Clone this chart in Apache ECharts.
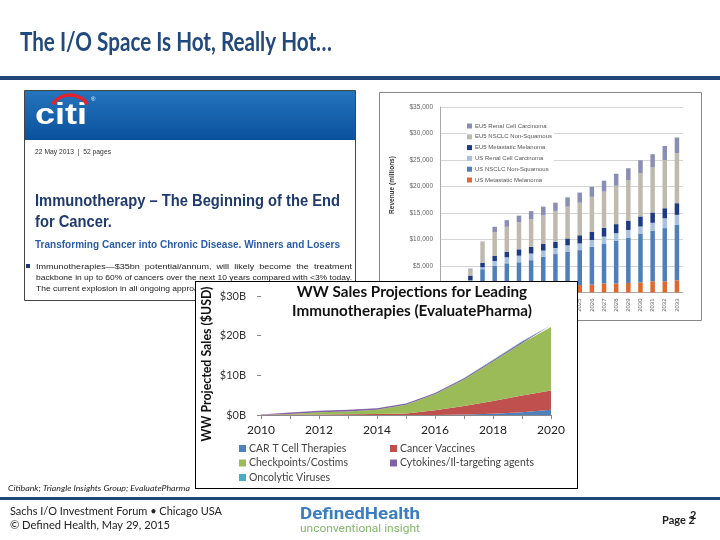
<!DOCTYPE html>
<html>
<head>
<meta charset="utf-8">
<script src="https://cdn.jsdelivr.net/npm/echarts@6/dist/echarts.min.js"></script>
<style>
  html, body { margin: 0; padding: 0; background: #fff; }
  #slide { position: absolute; left: 0; top: 0; width: 720px; height: 540px; }
  #front { position: absolute; left: 195px; top: 281px; width: 383px; height: 208px;
           box-sizing: border-box; border: 1px solid #000; background: #fff; }
</style>
</head>
<body>
<div id="slide"></div>
<div id="front"></div>
<script>
// Citi chart: revenue by indication, $ millions
const barYears = ['2014', '2015', '2016', '2017', '2018', '2019', '2020', '2021', '2022', '2023',
                  '2024', '2025', '2026', '2027', '2028', '2029', '2030', '2031', '2032', '2033'];
const usMelanoma  = [0, 0, 300, 600, 800, 900, 1000, 1100, 1200, 1300, 1350, 1400, 1500, 1700, 1700, 1800, 1900, 2100, 2100, 2300];
const usNsclc     = [0, 0, 1700, 3800, 4250, 4600, 4700, 5000, 5550, 5950, 6300, 6600, 7150, 7450, 8100, 8550, 9150, 9550, 10050, 10450];
const usRenal     = [0, 0, 300, 350, 900, 1150, 1250, 1250, 1150, 1150, 1250, 1250, 1250, 1400, 1400, 1450, 1400, 1500, 1850, 1900];
const eu5Melanoma = [0, 0, 900, 850, 1000, 1050, 1200, 1250, 1250, 1150, 1300, 1550, 1550, 1650, 1700, 1750, 1900, 1950, 1900, 2200];
const eu5Nsclc    = [0, 0, 1100, 3900, 4400, 4700, 5100, 5200, 5400, 5850, 6000, 6150, 6600, 6850, 7250, 7650, 8200, 8500, 9100, 9450];
const eu5Renal    = [0, 0, 200, 100, 1050, 1250, 1250, 1550, 1650, 1550, 1750, 1900, 1900, 2050, 2250, 2250, 2400, 2500, 2650, 2950];
const barYLabels  = ['$0', '$5,000', '$10,000', '$15,000', '$20,000', '$25,000', '$30,000', '$35,000'];

// EvaluatePharma chart: WW sales, $ billions
const areaYears   = ['2010', '2011', '2012', '2013', '2014', '2015', '2016', '2017', '2018', '2019', '2020'];
const carT        = [0, 0, 0, 0, 0, 0, 0.02, 0.1, 0.3, 0.7, 1.3];
const vaccines    = [0.05, 0.1, 0.15, 0.2, 0.25, 0.4, 1.2, 2.2, 3.2, 4.2, 4.9];
const checkpoints = [0.02, 0.15, 0.55, 0.7, 1.1, 2.2, 4.0, 6.65, 10.0, 13.2, 16.0];
const cytokines   = [0.05, 0.35, 0.4, 0.4, 0.35, 0.3, 0.3, 0.3, 0.3, 0.35, 0.4];
const oncolytic   = [0, 0, 0, 0, 0, 0, 0.02, 0.05, 0.1, 0.15, 0.2];
const areaYLabels = ['$0B', '$10B', '$20B', '$30B'];

const navy = '#21467A';
const ctx = document.createElement('canvas').getContext('2d');
// horizontal scale so a line of text fills the width it has in the picture
function fit(text, font, w) { ctx.font = font; return w / ctx.measureText(text).width; }
function txt(text, x, y, font, fill, extra) {
    return Object.assign({
        type: 'text', x: x, y: y,
        style: { text: text, x: 0, y: 0, font: font, fill: fill,
                 textVerticalAlign: 'middle', verticalAlign: 'middle' }
    }, extra || {});
}

const citiFont1 = 'bold 16px "Liberation Sans"';
const citiScale1 = fit('Immunotherapy \u2013 The Beginning of the End', citiFont1, 305);
const citiFont2 = 'bold 11px "Liberation Sans"';
const citiFont3 = '7.5px "Liberation Sans"';
const bulletScale = fit('backbone in up to 60% of cancers over the next 10 years compared with <3% today.', citiFont3, 316);
const titleFont = 'bold 27px Lato';
const dhFont = 'bold 17px Roboto';
const dhSubFont = '10.5px Roboto';

const slide = echarts.init(document.getElementById('slide'));
slide.setOption({
    animation: false,
    textStyle: { fontFamily: '"Liberation Sans"' },
    graphic: { elements: [
        txt('The I/O Space Is Hot, Really Hot\u2026', 20, 42, titleFont, '#22497D',
            { scaleX: fit('The I/O Space Is Hot, Really Hot\u2026', titleFont, 312) }),
        { type: 'rect', shape: { x: 0, y: 76, width: 720, height: 4 }, style: { fill: navy } },
        { type: 'rect', shape: { x: 0, y: 497, width: 720, height: 3 }, style: { fill: navy } },

        // Citi report cover
        { type: 'rect', z: -10, shape: { x: 24.5, y: 90.5, width: 331, height: 210 },
          style: { fill: '#fff', stroke: '#444', lineWidth: 1 } },
        { type: 'rect', z: -9, shape: { x: 25, y: 91, width: 330, height: 49 },
          style: { fill: new echarts.graphic.LinearGradient(0, 0, 0, 1, [
              { offset: 0, color: '#2474BC' }, { offset: 1, color: '#0B519D' }]) } },
        txt('citi', 35, 116, 'bold 30px "Liberation Sans"', '#fff', { scaleX: 1.2 }),
        { type: 'arc', shape: { cx: 70, cy: 116, r: 21, startAngle: -2.55, endAngle: -0.6, clockwise: true },
          style: { stroke: '#E3232B', lineWidth: 3.5, fill: null } },
        txt('\u00ae', 91, 99, '6px "Liberation Sans"', '#fff'),
        txt('22 May 2013  |  52 pages', 35, 152, '8px "Liberation Sans"', '#333',
            { scaleX: fit('22 May 2013  |  52 pages', '8px "Liberation Sans"', 76) }),
        txt('Immunotherapy \u2013 The Beginning of the End', 35, 202, citiFont1, '#1F3A6E', { scaleX: citiScale1 }),
        txt('for Cancer.', 35, 223, citiFont1, '#1F3A6E', { scaleX: citiScale1 }),
        txt('Transforming Cancer into Chronic Disease. Winners and Losers', 35, 245, citiFont2, '#2A5CA8',
            { scaleX: fit('Transforming Cancer into Chronic Disease. Winners and Losers', citiFont2, 305) }),
        { type: 'rect', shape: { x: 26, y: 264, width: 4, height: 4 }, style: { fill: '#1F3A6E' } },
        txt('Immunotherapies\u2014$35bn  potential/annum,  will  likely  become  the  treatment', 36, 267, citiFont3, '#222',
            { scaleX: fit('Immunotherapies\u2014$35bn  potential/annum,  will  likely  become  the  treatment', citiFont3, 316) }),
        txt('backbone in up to 60% of cancers over the next 10 years compared with <3% today.', 36, 278, citiFont3, '#222',
            { scaleX: bulletScale }),
        txt('The current explosion in all ongoing approaches and the', 36, 289, citiFont3, '#222', { scaleX: bulletScale }),

        // Citi bar chart frame and axis title
        { type: 'rect', z: -10, shape: { x: 379.5, y: 92.5, width: 322, height: 228 },
          style: { fill: '#fff', stroke: '#888', lineWidth: 1 } },
        txt('Revenue (millions)', 392, 185, 'bold 6.5px "Liberation Sans"', '#333',
            { rotation: Math.PI / 2, style: { text: 'Revenue (millions)', x: 0, y: 0, font: 'bold 6.5px "Liberation Sans"',
              fill: '#333', textAlign: 'center', textVerticalAlign: 'middle', verticalAlign: 'middle' } }),

        // source and footer
        txt('Citibank; Triangle Insights Group; EvaluatePharma', 8, 488, 'italic 8px Lato', '#222',
            { scaleX: fit('Citibank; Triangle Insights Group; EvaluatePharma', 'italic 8px Lato', 182) }),
        txt('Sachs I/O Investment Forum \u2022 Chicago USA', 10, 511, '11px Lato', '#222',
            { scaleX: fit('Sachs I/O Investment Forum \u2022 Chicago USA', '11px Lato', 212) }),
        txt('\u00a9 Defined Health, May 29, 2015', 10, 525, '11px Lato', '#222',
            { scaleX: fit('\u00a9 Defined Health, May 29, 2015', '11px Lato', 160) }),
        txt('DefinedHealth', 300, 515, dhFont, '#3B7DC2', { scaleX: fit('DefinedHealth', dhFont, 120) }),
        txt('unconventional insight', 300, 529, dhSubFont, '#83B86A', { scaleX: fit('unconventional insight', dhSubFont, 120) }),
        txt('Page 2', 662, 520, 'bold 11px Lato', '#222'),
        txt('2', 690, 515, 'bold 11px Lato', '#222')
    ] },
    legend: {
        orient: 'vertical', left: 467, top: 122, padding: [1, 2, 1, 0], itemWidth: 5, itemHeight: 5, itemGap: 4.8,
        icon: 'rect', backgroundColor: '#fff',
        textStyle: { fontSize: 6, color: '#555', padding: [0, 0, 0, -2] },
        data: ['EU5 Renal Cell Carcinoma', 'EU5 NSCLC Non-Squamous', 'EU5 Metastatic Melanoma',
               'US Renal Cell Carcinoma', 'US NSCLC Non-Squamous', 'US Metastatic Melanoma']
    },
    grid: { left: 440, right: 37, top: 107, bottom: 247.5, outerBoundsMode: 'none' },
    xAxis: {
        type: 'category', data: barYears,
        axisLine: { lineStyle: { color: '#aaa' } },
        axisTick: { lineStyle: { color: '#aaa' }, length: 3 },
        axisLabel: { rotate: 90, interval: 0, fontSize: 6, color: '#666', margin: 6 }
    },
    yAxis: {
        type: 'value', min: 0, max: 35000, interval: 5000,
        axisLine: { show: true, lineStyle: { color: '#aaa' } },
        axisTick: { show: false },
        splitLine: { lineStyle: { color: '#d4d4d4' } },
        axisLabel: { fontSize: 6.5, color: '#666', margin: 7, formatter: v => barYLabels[v / 5000] }
    },
    series: [
        { name: 'US Metastatic Melanoma', data: usMelanoma, color: '#E2672A' },
        { name: 'US NSCLC Non-Squamous', data: usNsclc, color: '#4E7FBA' },
        { name: 'US Renal Cell Carcinoma', data: usRenal, color: '#A9C0DE' },
        { name: 'EU5 Metastatic Melanoma', data: eu5Melanoma, color: '#1F3A85' },
        { name: 'EU5 NSCLC Non-Squamous', data: eu5Nsclc, color: '#BEBBAE' },
        { name: 'EU5 Renal Cell Carcinoma', data: eu5Renal, color: '#8B8EB4' }
    ].map(s => Object.assign({ type: 'bar', stack: 'rev', barWidth: 4.5 }, s))
});

// front chart (EvaluatePharma)
const ttlFont = 'bold 15px Lato';
const ttlScale = fit('Immunotherapies (EvaluatePharma)', ttlFont, 240);
const yNameFont = 'bold 13px Lato';
const front = echarts.init(document.getElementById('front'));
front.setOption({
    animation: false,
    textStyle: { fontFamily: 'Lato' },
    graphic: { elements: [
        { type: 'text', x: 216, y: 1, scaleX: ttlScale,
          style: { text: 'WW Sales Projections for Leading\nImmunotherapies (EvaluatePharma)', x: 0, y: 0,
                   font: ttlFont, fill: '#111', textAlign: 'center', lineHeight: 19 } },
        { type: 'text', x: 11, y: 82, rotation: Math.PI / 2,
          scaleX: fit('WW Projected Sales ($USD)', yNameFont, 155),
          style: { text: 'WW Projected Sales ($USD)', x: 0, y: 0, font: yNameFont, fill: '#111',
                   textAlign: 'center', textVerticalAlign: 'middle', verticalAlign: 'middle' } }
    ] },
    legend: [
        { data: ['CAR T Cell Therapies', 'Checkpoints/Costims', 'Oncolytic Viruses'], left: 43 },
        { data: ['Cancer Vaccines', 'Cytokines/Il-targeting agents'], left: 194 }
    ].map(l => Object.assign({
        orient: 'vertical', top: 161, height: 60, padding: 0, itemWidth: 7, itemHeight: 7, itemGap: 3.5, icon: 'rect',
        textStyle: { fontSize: 10.5, color: '#444', padding: [0, 0, 0, -2] }
    }, l)),
    grid: { left: 65, right: 26, top: 14, bottom: 73, outerBoundsMode: 'none' },
    xAxis: {
        type: 'category', data: areaYears, boundaryGap: false,
        axisLine: { lineStyle: { color: '#888' } },
        axisTick: { interval: 0, length: 4, lineStyle: { color: '#888' } },
        axisLabel: { interval: 1, fontSize: 12, color: '#222', margin: 9 }
    },
    yAxis: {
        type: 'value', min: 0, max: 30, interval: 10,
        axisLine: { show: false },
        axisTick: { show: true, length: 4, lineStyle: { color: '#888' } },
        splitLine: { show: false },
        axisLabel: { fontSize: 11, color: '#333', margin: 15, formatter: v => areaYLabels[v / 10] }
    },
    series: [
        { name: 'CAR T Cell Therapies', data: carT, color: '#4F81BD' },
        { name: 'Cancer Vaccines', data: vaccines, color: '#C0504D' },
        { name: 'Checkpoints/Costims', data: checkpoints, color: '#9BBB59' },
        { name: 'Cytokines/Il-targeting agents', data: cytokines, color: '#8064A2' },
        { name: 'Oncolytic Viruses', data: oncolytic, color: '#4BACC6' }
    ].map(s => Object.assign({
        type: 'line', stack: 'sales', showSymbol: false, symbol: 'none',
        lineStyle: { width: 0 }, areaStyle: { opacity: 1 }
    }, s))
});
</script>
</body>
</html>
